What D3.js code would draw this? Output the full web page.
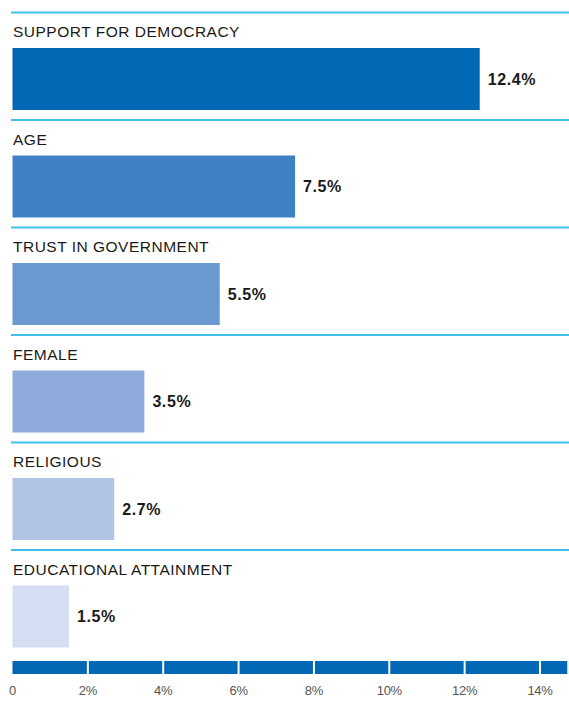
<!DOCTYPE html>
<html>
<head>
<meta charset="utf-8">
<script src="https://cdn.jsdelivr.net/npm/d3@7"></script>
<style>
  body { margin: 0; background: #fff; }
  svg { display: block; font-family: "Liberation Sans", Arial, sans-serif; }
</style>
</head>
<body>
<div id="chart"></div>
<script>
// data
const categories = ["SUPPORT FOR DEMOCRACY", "AGE", "TRUST IN GOVERNMENT", "FEMALE", "RELIGIOUS", "EDUCATIONAL ATTAINMENT"];
const values = [12.4, 7.5, 5.5, 3.5, 2.7, 1.5];
const barColors = ["#0068b4", "#3f82c4", "#6a98d0", "#8eabdb", "#b1c4e5", "#d5def2"];
const tickValues = [0, 2, 4, 6, 8, 10, 12, 14];
const tickLabels = ["0", "2%", "4%", "6%", "8%", "10%", "12%", "14%"];

const width = 569, height = 708;

const svg = d3.select("#chart").append("svg")
    .attr("width", width)
    .attr("height", height);

const x = d3.scaleLinear().domain([0, 14]).range([12.5, 540]);
const y = d3.scaleBand().domain(categories).range([12, 657]).paddingInner(0);

const rows = svg.selectAll(".rowG")
    .data(categories)
    .join("g")
    .attr("class", "rowG")
    .attr("transform", d => "translate(0," + y(d) + ")");

// cyan separator line on top of each row
rows.append("line")
    .attr("x1", 11).attr("x2", 569)
    .attr("y1", 0.5).attr("y2", 0.5)
    .attr("stroke", "#3ec0ee")
    .attr("stroke-width", 2);

rows.append("text")
    .attr("x", 13)
    .attr("y", 25)
    .attr("font-size", 15.5)
    .attr("fill", "#1a1a1a")
    .attr("letter-spacing", 0.5)
    .text(d => d);

rows.append("rect")
    .attr("x", x(0))
    .attr("y", 36)
    .attr("width", (d, i) => x(values[i]) - x(0))
    .attr("height", 62)
    .attr("fill", (d, i) => barColors[i]);

rows.append("text")
    .attr("x", (d, i) => x(values[i]) + 8)
    .attr("y", 67)
    .attr("dy", "0.35em")
    .attr("font-size", 16)
    .attr("font-weight", "bold")
    .attr("fill", "#1a1a1a")
    .attr("letter-spacing", 0.6)
    .text((d, i) => values[i] + "%");

// segmented axis bar
const segEdges = tickValues.concat([14.75]);
svg.append("g").selectAll("rect")
    .data(d3.pairs(segEdges))
    .join("rect")
    .attr("x", d => x(d[0]) + (d[0] === 0 ? 0 : 1))
    .attr("y", 661)
    .attr("width", d => x(d[1]) - x(d[0]) - (d[0] === 0 ? 1 : 2))
    .attr("height", 13)
    .attr("fill", "#0068b4");

svg.append("g").selectAll("text")
    .data(tickValues)
    .join("text")
    .attr("x", d => x(d))
    .attr("y", 695)
    .attr("text-anchor", "middle")
    .attr("font-size", 13)
    .attr("fill", "#555")
    .attr("letter-spacing", -0.3)
    .text((d, i) => tickLabels[i]);
</script>
</body>
</html>
